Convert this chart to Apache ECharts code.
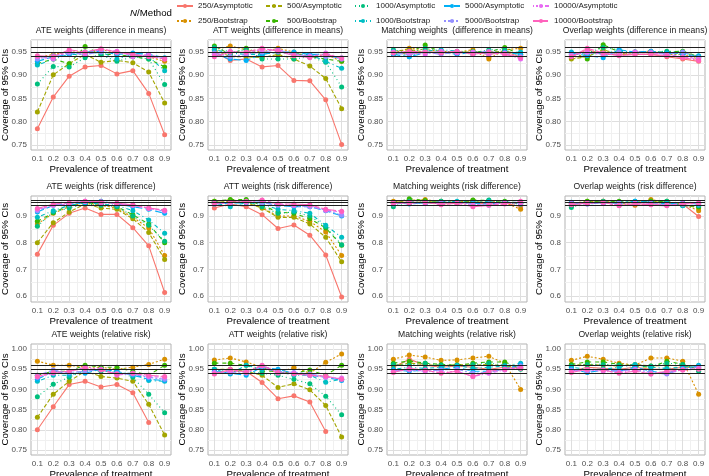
<!DOCTYPE html>
<html><head><meta charset="utf-8">
<script src="https://cdn.jsdelivr.net/npm/echarts@6/dist/echarts.min.js"></script>
<style>html,body{margin:0;padding:0;background:#fff}#c{width:709px;height:476px}</style>
</head><body><div id="c"></div>
<script>
// ---------- data ----------
const prevalence = [0.1, 0.2, 0.3, 0.4, 0.5, 0.6, 0.7, 0.8, 0.9];
const seriesNames = ['250/Asymptotic', '250/Bootstrap', '500/Asymptotic', '500/Bootstrap',
  '1000/Asymptotic', '1000/Bootstrap', '5000/Asymptotic', '5000/Bootstrap',
  '10000/Asymptotic', '10000/Bootstrap'];
const panelTitles = [
  'ATE weights (difference in means)', 'ATT weights (difference in means)',
  'Matching weights  (difference in means)', 'Overlap weights (difference in means)',
  'ATE weights (risk difference)', 'ATT weights (risk difference)',
  'Matching weights (risk difference)', 'Overlap weights (risk difference)',
  'ATE weights (relative risk)', 'ATT weights (relative risk)',
  'Matching weights (relative risk)', 'Overlap weights (relative risk)'];
const yTicksRow1 = [0.75, 0.80, 0.85, 0.90, 0.95];
const yTicksRow2 = [0.6, 0.7, 0.8, 0.9];
const yTicksRow3 = [0.75, 0.80, 0.85, 0.90, 0.95, 1.00];
const refLines = [0.9365, 0.95, 0.9635];

// rows in each panel follow seriesNames order
const ateDiff = [
  [0.785, 0.853, 0.898, 0.918, 0.921, 0.903, 0.910, 0.861, 0.772],
  [0.938, 0.945, 0.950, 0.950, 0.955, 0.950, 0.945, 0.940, 0.930],
  [0.821, 0.901, 0.925, 0.945, 0.928, 0.932, 0.927, 0.907, 0.840],
  [0.925, 0.935, 0.925, 0.962, 0.945, 0.945, 0.940, 0.935, 0.918],
  [0.881, 0.919, 0.918, 0.938, 0.944, 0.930, 0.940, 0.935, 0.880],
  [0.922, 0.935, 0.945, 0.945, 0.950, 0.935, 0.945, 0.940, 0.910],
  [0.930, 0.940, 0.945, 0.950, 0.952, 0.945, 0.948, 0.945, 0.938],
  [0.935, 0.942, 0.948, 0.945, 0.950, 0.948, 0.945, 0.942, 0.936],
  [0.940, 0.935, 0.952, 0.945, 0.956, 0.952, 0.940, 0.945, 0.935],
  [0.942, 0.940, 0.955, 0.950, 0.957, 0.950, 0.945, 0.940, 0.935]];
const attDiff = [
  [0.950, 0.932, 0.935, 0.918, 0.921, 0.889, 0.888, 0.847, 0.751],
  [0.955, 0.963, 0.955, 0.950, 0.958, 0.950, 0.940, 0.945, 0.930],
  [0.955, 0.940, 0.940, 0.938, 0.945, 0.935, 0.920, 0.893, 0.828],
  [0.963, 0.945, 0.958, 0.945, 0.950, 0.948, 0.940, 0.935, 0.930],
  [0.960, 0.950, 0.955, 0.935, 0.935, 0.935, 0.940, 0.928, 0.875],
  [0.955, 0.948, 0.945, 0.945, 0.950, 0.945, 0.945, 0.930, 0.915],
  [0.945, 0.935, 0.932, 0.945, 0.950, 0.950, 0.945, 0.945, 0.935],
  [0.948, 0.940, 0.945, 0.950, 0.955, 0.945, 0.942, 0.940, 0.938],
  [0.945, 0.952, 0.948, 0.955, 0.955, 0.945, 0.940, 0.948, 0.935],
  [0.940, 0.950, 0.950, 0.958, 0.952, 0.942, 0.938, 0.945, 0.937]];
const mwDiff = [
  [0.950, 0.945, 0.950, 0.950, 0.948, 0.950, 0.945, 0.950, 0.940],
  [0.948, 0.958, 0.955, 0.952, 0.950, 0.955, 0.935, 0.955, 0.958],
  [0.952, 0.955, 0.950, 0.948, 0.950, 0.950, 0.950, 0.952, 0.945],
  [0.945, 0.950, 0.965, 0.950, 0.948, 0.952, 0.950, 0.960, 0.945],
  [0.955, 0.948, 0.958, 0.952, 0.950, 0.948, 0.955, 0.955, 0.942],
  [0.952, 0.940, 0.952, 0.955, 0.952, 0.945, 0.950, 0.948, 0.950],
  [0.945, 0.940, 0.948, 0.950, 0.945, 0.950, 0.948, 0.950, 0.945],
  [0.948, 0.945, 0.950, 0.945, 0.950, 0.948, 0.952, 0.945, 0.940],
  [0.950, 0.948, 0.945, 0.952, 0.948, 0.950, 0.945, 0.948, 0.935],
  [0.948, 0.952, 0.950, 0.948, 0.952, 0.945, 0.950, 0.945, 0.938]];
const owDiff = [
  [0.940, 0.955, 0.945, 0.945, 0.945, 0.945, 0.940, 0.935, 0.930],
  [0.938, 0.945, 0.950, 0.948, 0.950, 0.952, 0.945, 0.945, 0.935],
  [0.935, 0.940, 0.955, 0.945, 0.950, 0.948, 0.948, 0.950, 0.940],
  [0.948, 0.935, 0.966, 0.950, 0.948, 0.950, 0.950, 0.952, 0.940],
  [0.945, 0.948, 0.960, 0.955, 0.948, 0.950, 0.952, 0.950, 0.938],
  [0.950, 0.945, 0.948, 0.952, 0.950, 0.950, 0.945, 0.948, 0.942],
  [0.948, 0.942, 0.938, 0.955, 0.950, 0.952, 0.948, 0.945, 0.940],
  [0.945, 0.948, 0.945, 0.950, 0.948, 0.950, 0.945, 0.950, 0.938],
  [0.942, 0.950, 0.945, 0.945, 0.950, 0.948, 0.945, 0.940, 0.935],
  [0.940, 0.958, 0.948, 0.942, 0.945, 0.945, 0.942, 0.938, 0.932]];
const ateRD = [
  [0.757, 0.865, 0.910, 0.930, 0.906, 0.906, 0.856, 0.788, 0.613],
  [0.870, 0.910, 0.935, 0.950, 0.940, 0.930, 0.895, 0.855, 0.752],
  [0.800, 0.875, 0.915, 0.945, 0.930, 0.925, 0.890, 0.838, 0.737],
  [0.880, 0.912, 0.940, 0.950, 0.945, 0.935, 0.905, 0.870, 0.800],
  [0.862, 0.915, 0.930, 0.945, 0.940, 0.935, 0.900, 0.865, 0.805],
  [0.895, 0.920, 0.940, 0.950, 0.945, 0.940, 0.920, 0.885, 0.835],
  [0.915, 0.940, 0.945, 0.950, 0.955, 0.945, 0.935, 0.925, 0.910],
  [0.920, 0.942, 0.948, 0.955, 0.952, 0.948, 0.940, 0.930, 0.918],
  [0.925, 0.940, 0.945, 0.955, 0.950, 0.945, 0.940, 0.928, 0.920],
  [0.928, 0.945, 0.950, 0.955, 0.953, 0.948, 0.942, 0.930, 0.922]];
const attRD = [
  [0.930, 0.945, 0.935, 0.905, 0.853, 0.866, 0.828, 0.754, 0.596],
  [0.955, 0.960, 0.955, 0.930, 0.900, 0.900, 0.880, 0.840, 0.752],
  [0.950, 0.955, 0.950, 0.930, 0.895, 0.895, 0.870, 0.820, 0.728],
  [0.955, 0.962, 0.962, 0.940, 0.915, 0.910, 0.890, 0.855, 0.790],
  [0.945, 0.950, 0.955, 0.935, 0.910, 0.915, 0.900, 0.860, 0.792],
  [0.950, 0.935, 0.950, 0.945, 0.925, 0.920, 0.910, 0.865, 0.820],
  [0.945, 0.948, 0.950, 0.952, 0.940, 0.935, 0.935, 0.920, 0.900],
  [0.948, 0.950, 0.952, 0.950, 0.940, 0.938, 0.935, 0.922, 0.903],
  [0.945, 0.950, 0.952, 0.958, 0.945, 0.940, 0.940, 0.922, 0.915],
  [0.948, 0.952, 0.955, 0.960, 0.945, 0.945, 0.942, 0.925, 0.918]];
const mwRD = [
  [0.950, 0.952, 0.950, 0.945, 0.948, 0.950, 0.945, 0.950, 0.935],
  [0.955, 0.958, 0.962, 0.952, 0.950, 0.958, 0.955, 0.950, 0.925],
  [0.952, 0.960, 0.955, 0.950, 0.952, 0.955, 0.950, 0.952, 0.945],
  [0.948, 0.965, 0.958, 0.955, 0.950, 0.960, 0.958, 0.955, 0.948],
  [0.935, 0.955, 0.952, 0.955, 0.950, 0.952, 0.960, 0.950, 0.945],
  [0.945, 0.950, 0.948, 0.952, 0.955, 0.950, 0.955, 0.948, 0.945],
  [0.950, 0.945, 0.950, 0.950, 0.952, 0.948, 0.945, 0.952, 0.950],
  [0.948, 0.950, 0.948, 0.952, 0.950, 0.945, 0.940, 0.950, 0.948],
  [0.945, 0.952, 0.950, 0.945, 0.950, 0.940, 0.945, 0.948, 0.950],
  [0.950, 0.948, 0.952, 0.942, 0.948, 0.935, 0.940, 0.945, 0.955]];
const owRD = [
  [0.945, 0.950, 0.955, 0.945, 0.945, 0.945, 0.945, 0.945, 0.898],
  [0.950, 0.952, 0.955, 0.950, 0.940, 0.962, 0.950, 0.945, 0.920],
  [0.940, 0.955, 0.950, 0.952, 0.950, 0.958, 0.945, 0.942, 0.930],
  [0.938, 0.955, 0.952, 0.955, 0.950, 0.955, 0.955, 0.940, 0.935],
  [0.932, 0.950, 0.955, 0.952, 0.955, 0.950, 0.955, 0.940, 0.938],
  [0.945, 0.948, 0.950, 0.950, 0.952, 0.950, 0.948, 0.938, 0.940],
  [0.952, 0.945, 0.950, 0.948, 0.955, 0.952, 0.945, 0.950, 0.945],
  [0.948, 0.950, 0.948, 0.950, 0.950, 0.948, 0.940, 0.948, 0.945],
  [0.945, 0.945, 0.950, 0.940, 0.948, 0.945, 0.942, 0.945, 0.950],
  [0.942, 0.948, 0.952, 0.938, 0.945, 0.942, 0.938, 0.945, 0.948]];
const ateRR = [
  [0.800, 0.857, 0.912, 0.920, 0.906, 0.912, 0.892, 0.818, null],
  [0.970, 0.960, 0.960, 0.955, 0.955, 0.950, 0.955, 0.962, 0.975],
  [0.831, 0.888, 0.920, 0.945, 0.932, 0.928, 0.920, 0.863, 0.787],
  [0.935, 0.945, 0.945, 0.960, 0.955, 0.955, 0.945, 0.935, 0.960],
  [0.882, 0.913, 0.930, 0.950, 0.945, 0.945, 0.930, 0.888, 0.842],
  [0.920, 0.935, 0.935, 0.945, 0.948, 0.940, 0.940, 0.922, 0.920],
  [0.925, 0.945, 0.940, 0.940, 0.950, 0.945, 0.935, 0.925, 0.922],
  [0.935, 0.948, 0.942, 0.945, 0.950, 0.940, 0.938, 0.930, 0.925],
  [0.930, 0.940, 0.945, 0.955, 0.950, 0.935, 0.940, 0.932, 0.930],
  [0.932, 0.942, 0.945, 0.952, 0.948, 0.938, 0.940, 0.935, 0.932]];
const attRR = [
  [0.940, 0.945, 0.945, 0.917, 0.877, 0.884, 0.869, 0.796, null],
  [0.973, 0.978, 0.968, 0.955, 0.940, 0.955, 0.940, 0.967, 0.988],
  [0.950, 0.950, 0.945, 0.935, 0.905, 0.914, 0.899, 0.860, 0.782],
  [0.965, 0.965, 0.960, 0.945, 0.945, 0.940, 0.948, 0.935, 0.960],
  [0.950, 0.945, 0.945, 0.940, 0.935, 0.925, 0.914, 0.883, 0.837],
  [0.950, 0.938, 0.960, 0.950, 0.945, 0.935, 0.935, 0.918, 0.925],
  [0.945, 0.940, 0.935, 0.955, 0.950, 0.940, 0.935, 0.930, 0.922],
  [0.940, 0.942, 0.940, 0.958, 0.945, 0.942, 0.938, 0.932, 0.925],
  [0.942, 0.945, 0.945, 0.958, 0.940, 0.940, 0.935, 0.930, 0.928],
  [0.938, 0.950, 0.942, 0.960, 0.942, 0.938, 0.935, 0.933, 0.925]];
const mwRR = [
  [0.955, 0.975, 0.960, 0.955, 0.958, 0.955, 0.950, 0.955, 0.955],
  [0.975, 0.985, 0.980, 0.972, 0.973, 0.978, 0.982, 0.965, 0.900],
  [0.960, 0.965, 0.962, 0.958, 0.962, 0.960, 0.962, 0.958, 0.955],
  [0.965, 0.970, 0.965, 0.962, 0.960, 0.965, 0.968, 0.968, 0.952],
  [0.962, 0.960, 0.965, 0.960, 0.958, 0.962, 0.965, 0.960, 0.950],
  [0.950, 0.955, 0.952, 0.955, 0.960, 0.952, 0.955, 0.958, 0.965],
  [0.948, 0.945, 0.948, 0.950, 0.955, 0.945, 0.945, 0.950, 0.962],
  [0.945, 0.948, 0.945, 0.948, 0.950, 0.940, 0.942, 0.950, 0.958],
  [0.945, 0.950, 0.945, 0.942, 0.945, 0.932, 0.940, 0.948, 0.955],
  [0.942, 0.952, 0.948, 0.940, 0.945, 0.932, 0.945, 0.950, 0.952]];
const owRR = [
  [0.945, 0.955, 0.952, 0.950, 0.955, 0.950, 0.950, 0.955, 0.955],
  [0.972, 0.982, 0.975, 0.965, 0.960, 0.978, 0.978, 0.970, 0.888],
  [0.960, 0.962, 0.960, 0.958, 0.962, 0.958, 0.960, 0.958, 0.952],
  [0.962, 0.968, 0.968, 0.962, 0.958, 0.955, 0.970, 0.962, 0.948],
  [0.958, 0.962, 0.962, 0.960, 0.960, 0.958, 0.965, 0.962, 0.945],
  [0.955, 0.950, 0.950, 0.955, 0.962, 0.955, 0.952, 0.955, 0.960],
  [0.950, 0.942, 0.948, 0.945, 0.955, 0.945, 0.940, 0.952, 0.958],
  [0.948, 0.945, 0.948, 0.945, 0.950, 0.942, 0.938, 0.950, 0.955],
  [0.945, 0.948, 0.945, 0.942, 0.948, 0.938, 0.942, 0.948, 0.952],
  [0.942, 0.950, 0.948, 0.940, 0.945, 0.938, 0.945, 0.948, 0.950]];

// ---------- styling / layout ----------
const panels = [ateDiff, attDiff, mwDiff, owDiff, ateRD, attRD, mwRD, owRD, ateRR, attRR, mwRR, owRR];
const rowTicks = [yTicksRow1, yTicksRow2, yTicksRow3];
const rowDecimals = [2, 1, 2];
const rowLimits = [[0.739, 0.976], [0.5775, 0.975], [0.7375, 1.0125]];
const colors = ['#F8766D', '#D89000', '#A3A500', '#39B600', '#00BF7D',
  '#00BFC4', '#00B0F6', '#9590FF', '#E76BF3', '#FF62BC'];
const dashes = ['solid', [2, 2], [4, 2], [4, 4], [1, 3], [1, 3, 4, 3], [7, 3], [2, 2, 6, 2],
  [1, 2, 2, 2, 3, 2, 4, 2], [15, 2, 8, 2]];
const lefts = [31, 208, 387, 565];
const plotW = 140;
const tops = [40, 196, 344];
const heights = [110, 106, 111];
const xMin = 0.06, xMax = 0.94;
const legendCols = [176, 265, 354, 443, 532];
const legendRows = [2, 17];
const FONT = '"Liberation Sans", Arial, sans-serif';

function gridValues(ticks, min, max) {
  const step = ticks[1] - ticks[0];
  const out = [];
  for (let k = -1; ; k++) {
    const v = Math.round((ticks[0] + k * step / 2) * 10000) / 10000;
    if (v > max + 1e-9) break;
    if (v >= min) out.push(v);
  }
  return out;
}

const grids = [], xAxes = [], yAxes = [], series = [], graphics = [];
panels.forEach((panel, p) => {
  const row = Math.floor(p / 4), col = p % 4;
  const left = lefts[col], top = tops[row], h = heights[row];
  const [ymin, ymax] = rowLimits[row];
  grids.push({left: left, top: top, width: plotW, height: h, show: true,
    borderColor: '#B3B3B3', borderWidth: 1, backgroundColor: '#fff'});
  xAxes.push({type: 'value', gridIndex: p, min: xMin, max: xMax,
    axisLine: {show: false},
    axisTick: {show: false, customValues: gridValues(prevalence, xMin, xMax)},
    axisLabel: {customValues: prevalence, formatter: v => v.toFixed(1), fontSize: 8,
      color: '#4D4D4D', margin: 5, fontFamily: FONT},
    splitLine: {show: true, lineStyle: {color: ['#DEDEDE', '#F0F0F0'], width: 1}}
  });
  yAxes.push({type: 'value', gridIndex: p, min: ymin, max: ymax,
    axisLine: {show: false},
    axisTick: {show: false, customValues: gridValues(rowTicks[row], ymin, ymax)},
    axisLabel: {customValues: rowTicks[row], formatter: v => v.toFixed(rowDecimals[row]),
      fontSize: 8, color: '#4D4D4D', margin: 4, fontFamily: FONT},
    splitLine: {show: true, lineStyle: {color: ['#DEDEDE', '#F0F0F0'], width: 1}}
  });
  series.push({type: 'line', xAxisIndex: p, yAxisIndex: p, data: [], silent: true, z: 1,
    markLine: {silent: true, symbol: ['none', 'none'], animation: false,
      label: {show: false}, emphasis: {disabled: true},
      lineStyle: {color: '#1F1F1F', width: 1.2, type: 'solid'},
      data: refLines.map(v => ({yAxis: v}))}});
  panel.forEach((vals, s) => {
    const data = [];
    vals.forEach((v, i) => { if (v !== null) data.push([prevalence[i], v]); });
    series.push({type: 'line', name: seriesNames[s], xAxisIndex: p, yAxisIndex: p,
      data: data, symbol: 'circle', symbolSize: 5, z: 2 + s * 0.01,
      lineStyle: {color: colors[s], width: 1.1, type: dashes[s]},
      itemStyle: {color: colors[s]}, emphasis: {disabled: true}, animation: false});
  });
  graphics.push({type: 'text', x: left + plotW / 2, y: top - 9, silent: true,
    style: {text: panelTitles[p], fill: '#1A1A1A', font: '8.6px ' + FONT,
      align: 'center', verticalAlign: 'middle'}});
  graphics.push({type: 'text', x: left - 25.5, y: top + h / 2, rotation: Math.PI / 2, silent: true,
    style: {text: 'Coverage of 95% CIs', fill: '#000', font: '9.7px ' + FONT,
      align: 'center', verticalAlign: 'middle'}});
  graphics.push({type: 'text', x: left + plotW / 2, y: top + h + 19, silent: true,
    style: {text: 'Prevalence of treatment', fill: '#000', font: '9.7px ' + FONT,
      align: 'center', verticalAlign: 'middle'}});
});
graphics.push({type: 'text', x: 172, y: 13, silent: true,
  style: {text: '{i|N}{n|/Method}', align: 'right', verticalAlign: 'middle',
    rich: {i: {fontStyle: 'italic', fontSize: 9.7, fontFamily: FONT, fill: '#000'},
           n: {fontSize: 9.7, fontFamily: FONT, fill: '#000'}}}});

// one legend block per key, laid out column-wise like the original guide
const legends = seriesNames.map((name, s) => ({
  data: [name], left: legendCols[Math.floor(s / 2)], top: legendRows[s % 2],
  orient: 'horizontal', itemWidth: 16, itemHeight: 5, padding: 0, selectedMode: false,
  textStyle: {fontSize: 8, color: '#1A1A1A', fontFamily: FONT}
}));

const option = {
  animation: false,
  backgroundColor: '#fff',
  textStyle: {fontFamily: FONT},
  legend: legends,
  grid: grids, xAxis: xAxes, yAxis: yAxes, series: series, graphic: graphics
};
const chart = echarts.init(document.getElementById('c'), null, {renderer: 'canvas'});
chart.setOption(option);
</script></body></html>
